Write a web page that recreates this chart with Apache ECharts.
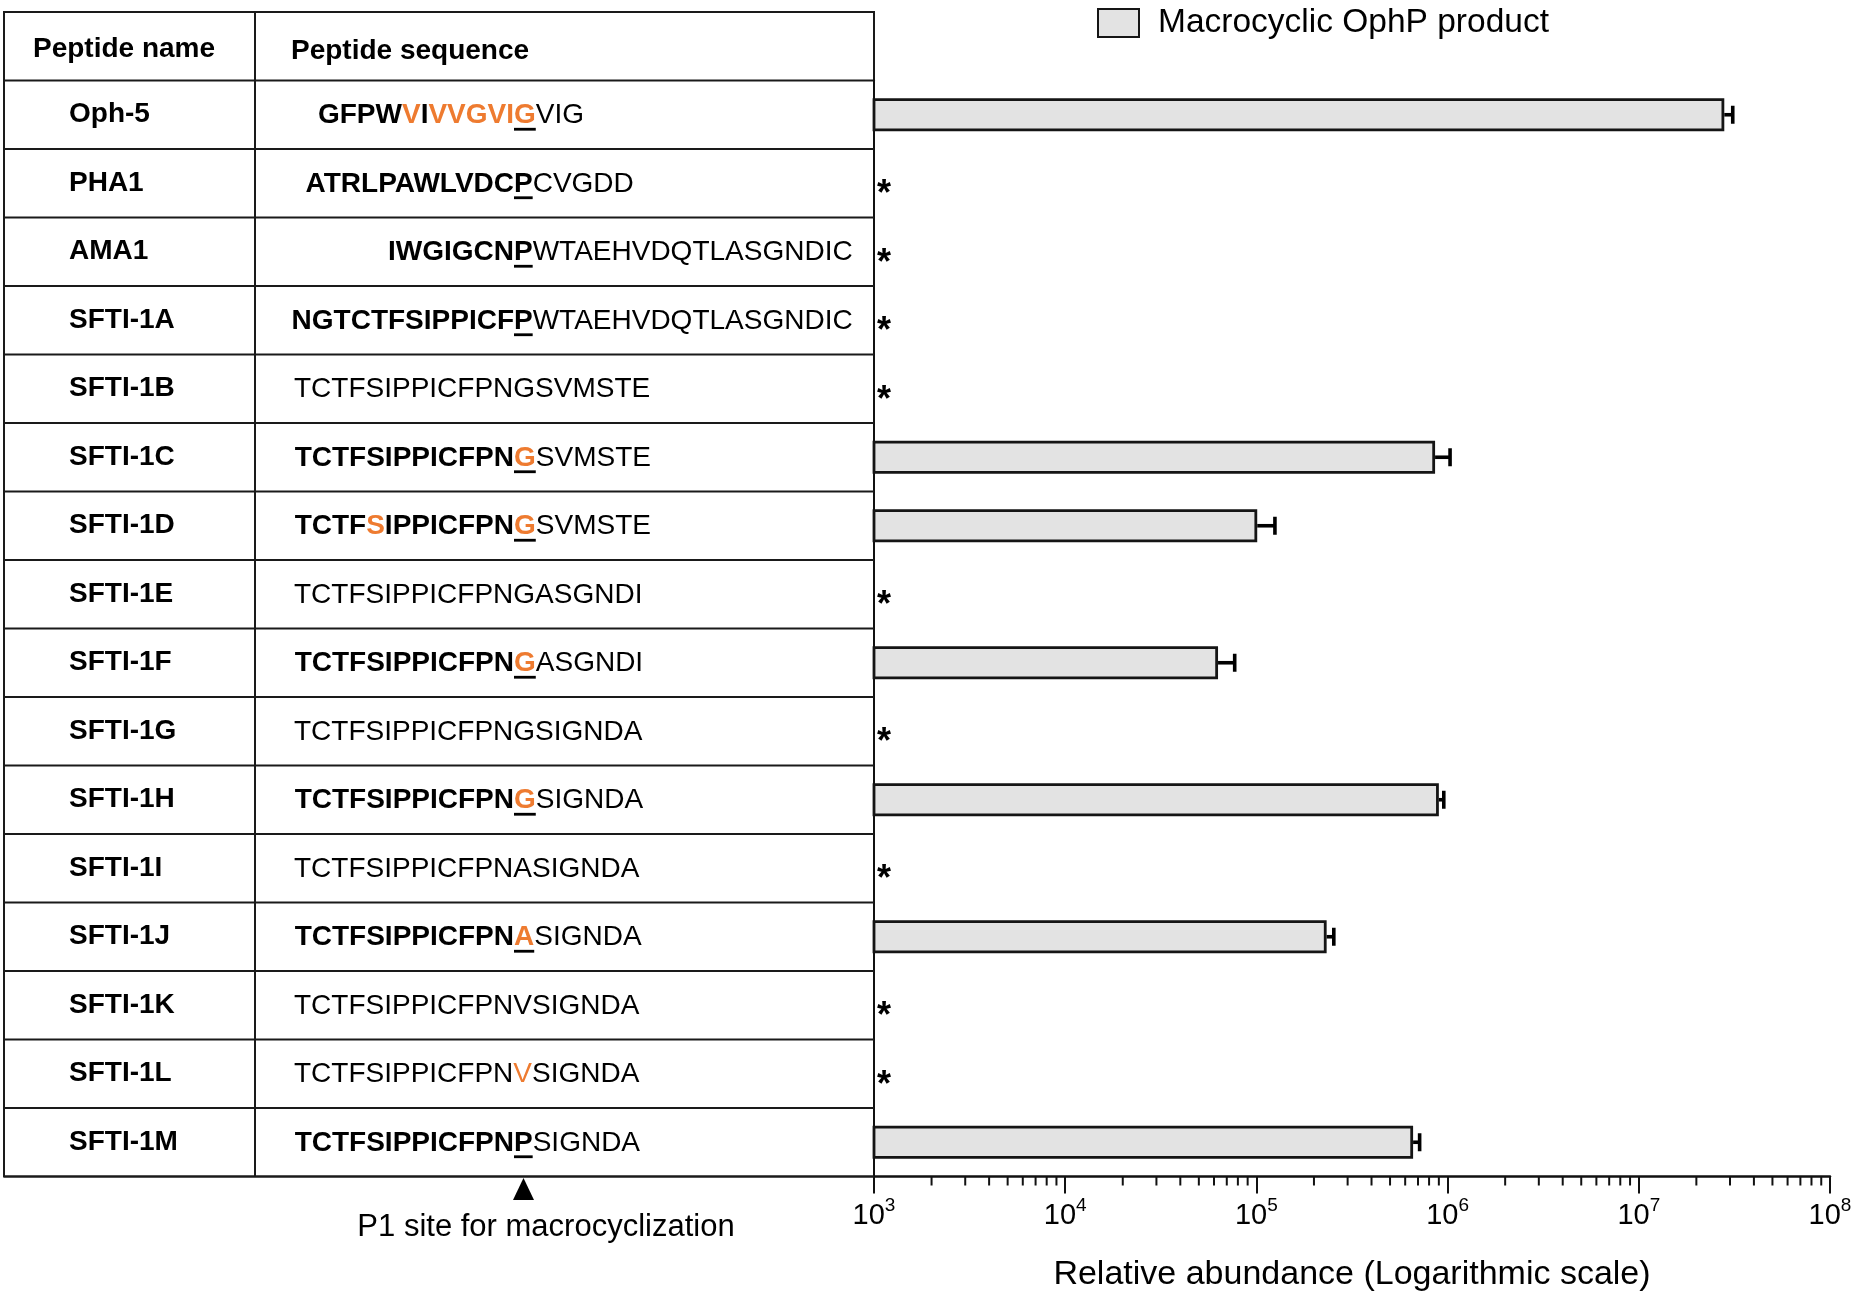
<!DOCTYPE html>
<html>
<head>
<meta charset="utf-8">
<script src="https://cdn.jsdelivr.net/npm/echarts@6/dist/echarts.min.js"></script>
<style>
html,body{margin:0;padding:0;background:#fff;}
#c{width:1857px;height:1293px;}
</style>
</head>
<body>
<div id="c"></div>
<script>
// ---------------- DATA ----------------
const peptideNames = ['Oph-5','PHA1','AMA1','SFTI-1A','SFTI-1B','SFTI-1C','SFTI-1D','SFTI-1E',
  'SFTI-1F','SFTI-1G','SFTI-1H','SFTI-1I','SFTI-1J','SFTI-1K','SFTI-1L','SFTI-1M'];

const sequences = [
  'GFPWVIVVGVIGVIG',
  'ATRLPAWLVDCPCVGDD',
  'IWGIGCNPWTAEHVDQTLASGNDIC',
  'NGTCTFSIPPICFPWTAEHVDQTLASGNDIC',
  'TCTFSIPPICFPNGSVMSTE',
  'TCTFSIPPICFPNGSVMSTE',
  'TCTFSIPPICFPNGSVMSTE',
  'TCTFSIPPICFPNGASGNDI',
  'TCTFSIPPICFPNGASGNDI',
  'TCTFSIPPICFPNGSIGNDA',
  'TCTFSIPPICFPNGSIGNDA',
  'TCTFSIPPICFPNASIGNDA',
  'TCTFSIPPICFPNASIGNDA',
  'TCTFSIPPICFPNVSIGNDA',
  'TCTFSIPPICFPNVSIGNDA',
  'TCTFSIPPICFPNPSIGNDA'
];
// index of the P1 residue (macrocyclization site); core up to P1 is bold; -1 = not processed
const p1Index = [11, 11, 7, 13, -1, 13, 13, -1, 13, -1, 13, -1, 13, -1, -1, 13];
// highlighted (orange) residue positions
const highlighted = [[4,6,7,8,9,10,11], [], [], [], [], [13], [4,13], [], [13], [], [13], [], [13], [], [13], []];

// relative abundance of macrocyclic product (null = not detected, shown as *)
const abundance = [2.8e7, null, null, null, null, 8.6e5, 1.01e5, null, 6.3e4, null, 9.0e5, null, 2.33e5, null, null, 6.6e5];
const abundanceErr = [3.0e6, 0, 0, 0, 0, 1.7e5, 2.4e4, 0, 1.4e4, 0, 5.5e4, 0, 2.1e4, 0, 0, 5.4e4];

const xTickExponents = [3, 4, 5, 6, 7, 8];
const minorMultipliers = [2, 3, 4, 5, 6, 7, 8, 9];

const seriesName = 'Macrocyclic OphP product';
const axisTitle = 'Relative abundance (Logarithmic scale)';
const headerName = 'Peptide name';
const headerSeq = 'Peptide sequence';
const p1Caption = 'P1 site for macrocyclization';

// ---------------- LAYOUT ----------------
const FONT = '"Liberation Sans", Arial, Helvetica, sans-serif';
const ORANGE = '#EE7B30';
const GRID = {left: 874, right: 27, top: 80.5, bottom: 116.5};
const TABLE_LEFT = 4, TABLE_TOP = 12, TABLE_BOTTOM = 1293 - 116.5, COL_X = 255;
const SEQ_X = 294, P1_X = 514, SEQ_SIZE = 28;

const mctx = document.createElement('canvas').getContext('2d');
function textWidth(t, bold, size) {
  mctx.font = (bold ? 'bold ' : '') + size + 'px ' + FONT;
  return mctx.measureText(t).width;
}

const minorTicks = [];
xTickExponents.slice(0, -1).forEach(e => minorMultipliers.forEach(m => minorTicks.push([m * Math.pow(10, e), 0])));

function renderRow(params, api) {
  const i = params.dataIndex;
  const c = api.coord([1000, i]);
  const band = api.size([0, 1])[1];
  const yc = c[1];
  const seq = sequences[i], p1 = p1Index[i], hl = highlighted[i];
  let x = p1 >= 0 ? P1_X - textWidth(seq.slice(0, p1), true, SEQ_SIZE) : SEQ_X;
  const children = [];
  const st = k => ({b: p1 >= 0 && k <= p1, o: hl.indexOf(k) >= 0, u: k === p1});
  let j = 0;
  while (j < seq.length) {
    const s0 = st(j);
    let k = j + 1;
    while (k < seq.length) {
      const s = st(k);
      if (s.b !== s0.b || s.o !== s0.o || s.u !== s0.u) break;
      k++;
    }
    const t = seq.slice(j, k);
    const w = textWidth(t, s0.b, SEQ_SIZE);
    children.push({
      type: 'text', x: x, y: yc + 1,
      style: {text: t, fontFamily: FONT, fontSize: SEQ_SIZE, fontWeight: s0.b ? 'bold' : 'normal',
        fill: s0.o ? ORANGE : '#000', align: 'left', verticalAlign: 'middle'}
    });
    if (s0.u) {
      children.push({type: 'line', shape: {x1: x, y1: yc + 14.5, x2: x + w, y2: yc + 14.5},
        style: {stroke: '#000', lineWidth: 2.8}});
    }
    x += w; j = k;
  }
  children.push({type: 'line', shape: {x1: TABLE_LEFT, y1: yc + band / 2, x2: GRID.left, y2: yc + band / 2},
    style: {stroke: '#1a1a1a', lineWidth: 2}});
  return {type: 'group', children: children};
}

const chart = echarts.init(document.getElementById('c'), null, {renderer: 'canvas'});

const option = {
  animation: false,
  backgroundColor: '#fff',
  textStyle: {fontFamily: FONT, color: '#000'},
  grid: {left: GRID.left, right: GRID.right, top: GRID.top, bottom: GRID.bottom, containLabel: false,
    outerBoundsMode: 'none'},
  legend: {
    data: [seriesName], left: 1092, top: 1, icon: 'rect', itemWidth: 41, itemHeight: 28,
    textStyle: {fontSize: 33.5, color: '#000', fontFamily: FONT, padding: [0, 0, 0, 14]},
    selectedMode: false
  },
  xAxis: {
    type: 'log', logBase: 10, min: 1000, max: 1e8, splitNumber: 5,
    axisLine: {show: true, lineStyle: {color: '#111', width: 2.5}},
    axisTick: {show: true, length: 17, lineStyle: {color: '#111', width: 2}},
    splitLine: {show: false},
    axisLabel: {
      margin: 20, showMinLabel: true, showMaxLabel: true,
      formatter: v => '{b|10}{s|' + Math.round(Math.log10(v)) + '}',
      rich: {
        b: {fontSize: 29, lineHeight: 38, fontFamily: FONT, color: '#000'},
        s: {fontSize: 19, lineHeight: 38, verticalAlign: 'top', fontFamily: FONT, color: '#000'}
      }
    },
    name: axisTitle, nameLocation: 'middle', nameGap: 81,
    nameTextStyle: {fontSize: 34, color: '#000', fontFamily: FONT}
  },
  yAxis: {
    type: 'category', data: peptideNames, inverse: true,
    axisLine: {show: true, lineStyle: {color: '#111', width: 2}},
    axisTick: {show: false},
    splitLine: {show: false},
    axisLabel: {align: 'left', margin: GRID.left - 69, fontSize: 28, fontWeight: 'bold', color: '#000', fontFamily: FONT}
  },
  graphic: [
    {type: 'rect', silent: true, shape: {x: TABLE_LEFT, y: TABLE_TOP, width: GRID.left - TABLE_LEFT, height: TABLE_BOTTOM - TABLE_TOP},
      style: {fill: 'none', stroke: '#1a1a1a', lineWidth: 2}},
    {type: 'line', silent: true, shape: {x1: COL_X, y1: TABLE_TOP, x2: COL_X, y2: TABLE_BOTTOM},
      style: {stroke: '#1a1a1a', lineWidth: 2}},
    {type: 'line', silent: true, shape: {x1: TABLE_LEFT, y1: GRID.top, x2: GRID.left, y2: GRID.top},
      style: {stroke: '#1a1a1a', lineWidth: 2}},
    {type: 'text', silent: true, x: 33, y: 49,
      style: {text: headerName, fontFamily: FONT, fontSize: 28, fontWeight: 'bold', fill: '#000', align: 'left', verticalAlign: 'middle'}},
    {type: 'text', silent: true, x: 291, y: 51,
      style: {text: headerSeq, fontFamily: FONT, fontSize: 28, fontWeight: 'bold', fill: '#000', align: 'left', verticalAlign: 'middle'}},
    {type: 'polygon', silent: true, shape: {points: [[513, 1200], [534, 1200], [523.5, 1178]]},
      style: {fill: '#000'}},
    {type: 'text', silent: true, x: 546, y: 1227,
      style: {text: p1Caption, fontFamily: FONT, fontSize: 31, fill: '#000', align: 'center', verticalAlign: 'middle'}}
  ],
  series: [
    {
      name: seriesName, type: 'bar', data: abundance, barWidth: 33, clip: true,
      itemStyle: {color: '#e3e3e3', borderColor: '#151515', borderWidth: 2.8},
      emphasis: {disabled: true}, z: 2
    },
    {
      name: 'errorbars', type: 'custom', silent: true, z: 3,
      data: abundance.map((v, i) => v == null ? null : [v, peptideNames[i], abundanceErr[i]]).filter(d => d),
      encode: {x: 0, y: 1},
      renderItem: (params, api) => {
        const v = api.value(0), yi = api.value(1), e = api.value(2);
        const p0 = api.coord([v, yi]), p1 = api.coord([v + e, yi]);
        return {type: 'group', children: [
          {type: 'line', shape: {x1: p0[0], y1: p0[1], x2: p1[0], y2: p1[1]}, style: {stroke: '#000', lineWidth: 3.6}},
          {type: 'line', shape: {x1: p1[0], y1: p1[1] - 9, x2: p1[0], y2: p1[1] + 9}, style: {stroke: '#000', lineWidth: 3.6}}
        ]};
      }
    },
    {
      name: 'notDetected', type: 'custom', silent: true, z: 3,
      data: abundance.map((v, i) => v == null ? [1000, peptideNames[i]] : null).filter(d => d),
      encode: {x: 0, y: 1},
      renderItem: (params, api) => {
        const p = api.coord([api.value(0), api.value(1)]);
        return {type: 'text', x: p[0] + 10, y: p[1] + 12,
          style: {text: '*', fontFamily: FONT, fontSize: 36, fontWeight: 'bold', fill: '#000', align: 'center', verticalAlign: 'middle'}};
      }
    },
    {
      name: 'tableRows', type: 'custom', silent: true, z: 1,
      data: peptideNames.map(n => [1000, n]),
      encode: {x: 0, y: 1},
      renderItem: renderRow
    },
    {
      name: 'minorTicks', type: 'custom', silent: true, z: 3,
      data: minorTicks,
      encode: {x: 0, y: 1},
      renderItem: (params, api) => {
        const x = api.coord([api.value(0), 0])[0];
        const y0 = params.coordSys.y + params.coordSys.height;
        return {type: 'line', shape: {x1: x, y1: y0, x2: x, y2: y0 + 9}, style: {stroke: '#111', lineWidth: 2}};
      }
    }
  ]
};
chart.setOption(option);
</script>
</body>
</html>
